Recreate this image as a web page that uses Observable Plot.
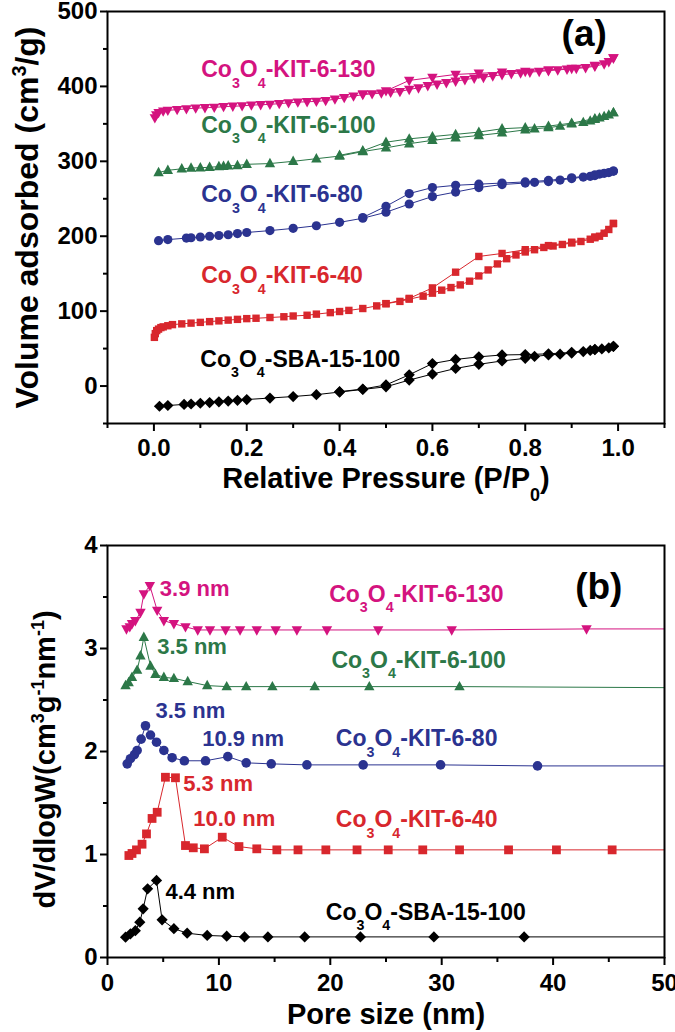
<!DOCTYPE html>
<html><head><meta charset="utf-8">
<script src="https://cdn.jsdelivr.net/npm/d3@7"></script>
<script src="https://cdn.jsdelivr.net/npm/@observablehq/plot@0.6"></script>
<style>
body{margin:0;background:#fff;}
#chart{width:675px;}
#chart svg{display:block;}
</style></head><body><div id="chart"></div>
<script>
// ---------------- Panel (a): N2 isotherms ----------------
const relP130Ads = [0.002,0.005,0.01,0.02,0.03,0.05,0.07,0.09,0.11,0.13,0.15,0.17,0.19,0.21,0.23,0.25,0.27,0.29,0.31,0.33,0.35,0.37,0.39,0.41,0.43,0.45,0.47,0.49,0.51,0.53,0.55,0.57,0.59,0.61,0.63,0.65,0.67,0.69,0.71,0.73,0.75,0.77,0.79,0.81,0.83,0.85,0.87,0.89,0.91,0.93,0.95,0.97,0.98,0.99];
const vol130Ads  = [358,362,365,367,368,369,370,371,371.5,372,373,373.5,374,375,375.5,376,377,378,379,379.5,380,381,383,385,387,389,390,391,392,393,396,398,401,403,405,407,409,411,412,414,415.5,417,418,419,420,421,422,423,424,425,427,430,433,438];
const relP130Des = [0.99,0.95,0.90,0.85,0.80,0.75,0.70,0.65,0.60,0.55,0.50,0.45];
const vol130Des  = [438,428,424,422,420,419,417.5,416,412,408,394,390];

const relP100Ads = [0.01,0.03,0.06,0.08,0.10,0.12,0.14,0.15,0.16,0.18,0.20,0.25,0.30,0.35,0.40,0.45,0.50,0.55,0.60,0.65,0.70,0.75,0.80,0.82,0.85,0.875,0.90,0.925,0.94,0.95,0.96,0.97,0.98,0.99];
const vol100Ads  = [285,288,290,291,291.5,292,293,293.5,294,294.5,296,297,300,303.5,307,313,318,323.5,328,331.5,334.5,338,342,343.5,345,347,350,352,354,356,358,360,362,365];
const relP100Des = [0.99,0.95,0.90,0.85,0.80,0.75,0.70,0.65,0.60,0.55,0.50,0.45,0.40];
const vol100Des  = [365,357,351,347,345,343.5,339,336,333,330,325.5,314,308];

const relP80Ads = [0.01,0.03,0.07,0.08,0.10,0.12,0.14,0.16,0.18,0.20,0.25,0.30,0.35,0.40,0.45,0.50,0.55,0.60,0.65,0.70,0.75,0.80,0.82,0.85,0.875,0.90,0.925,0.94,0.95,0.96,0.97,0.98,0.99];
const vol80Ads  = [194,195.5,197.5,198,199,200,201,202,203.5,205,207.5,210.5,214,218.5,224,232,243,253,259,265,269,271,272,273,275,277,279,280,281,283,284,285,287];
const relP80Des = [0.99,0.95,0.90,0.85,0.80,0.75,0.70,0.65,0.60,0.55,0.50,0.45];
const vol80Des  = [287,282,278,274.5,272.5,271,269.5,268,265,257,240,225];

const relP40Ads = [0.001,0.003,0.006,0.01,0.015,0.02,0.03,0.04,0.06,0.08,0.10,0.12,0.14,0.16,0.18,0.20,0.22,0.25,0.28,0.30,0.33,0.35,0.38,0.40,0.42,0.45,0.48,0.50,0.53,0.55,0.58,0.60,0.62,0.64,0.66,0.68,0.70,0.72,0.74,0.76,0.78,0.80,0.82,0.84,0.86,0.88,0.90,0.92,0.94,0.95,0.96,0.97,0.98,0.99];
const vol40Ads  = [65,70,74,76,78,79,80.5,82,83,84,85,86,87,88,89,90,90.5,91.5,92.5,93.5,94.5,96,98,99.5,101,103.5,107,110,113,116,120,124,128,131.5,135,140,147,155,163,170,175,179,182,185,187,189,191,193,196,198,200,204,209,217];
const relP40Des = [0.99,0.95,0.90,0.85,0.80,0.75,0.70,0.65,0.60,0.55,0.50];
const vol40Des  = [217,199,192,187.5,182,177,173,152,131,117,110];

const relPSbaAds = [0.012,0.03,0.065,0.08,0.10,0.12,0.14,0.16,0.18,0.20,0.25,0.30,0.35,0.40,0.45,0.50,0.55,0.60,0.65,0.70,0.75,0.80,0.82,0.85,0.875,0.90,0.925,0.94,0.95,0.965,0.98,0.99];
const volSbaAds  = [-27,-26,-24.5,-24,-23,-22,-21,-20,-19,-18,-16,-14,-11.5,-8,-4.5,-1,8,16,23.5,29,33.5,37,39.5,41.5,42.5,44,46,47.5,48.5,49.5,51,53];
const relPSbaDes = [0.99,0.95,0.90,0.85,0.80,0.75,0.70,0.65,0.60,0.55,0.50,0.45,0.40];
const volSbaDes  = [53,49,45,43,42,41.5,39,35.5,30,15,1.5,-4,-7.5];

// ---------------- Panel (b): pore size distributions ----------------
const size130 = [1.7,2.0,2.2,2.5,2.96,3.26,3.8,4.46,5.06,5.96,7.0,8.1,9.2,10.6,11.9,13.4,15.1,17.0,19.7,24.3,30.9,43.0];
const dv130   = [3.19,3.21,3.24,3.27,3.35,3.53,3.61,3.37,3.27,3.24,3.21,3.18,3.18,3.18,3.18,3.18,3.18,3.18,3.18,3.18,3.18,3.19];
const size100 = [1.62,1.9,2.2,2.66,2.96,3.26,3.86,4.3,5.06,5.96,7.2,8.95,10.7,12.45,14.8,18.6,23.5,31.6];
const dv100   = [2.64,2.67,2.72,2.79,2.93,3.11,2.83,2.75,2.72,2.71,2.68,2.64,2.63,2.63,2.63,2.63,2.63,2.63];
const size80  = [1.77,2.06,2.42,2.66,3.02,3.41,3.86,4.4,5.06,5.8,6.9,8.8,10.8,12.45,14.7,17.9,22.95,29.9,38.6];
const dv80    = [1.88,1.93,1.97,2.01,2.12,2.25,2.16,2.09,2.01,1.94,1.91,1.91,1.95,1.89,1.88,1.87,1.87,1.87,1.86];
const size40  = [1.92,2.2,2.6,3.1,3.5,4.0,4.46,5.2,6.1,7.0,7.7,8.7,10.3,11.8,13.4,15.2,17.1,19.6,22.4,25.2,28.3,31.6,36.0,40.3,45.3];
const dv40    = [0.99,1.01,1.045,1.10,1.20,1.35,1.41,1.75,1.745,1.087,1.065,1.055,1.168,1.077,1.055,1.045,1.045,1.045,1.045,1.045,1.045,1.045,1.045,1.045,1.045];
const sizeSba = [1.62,2.06,2.5,2.9,3.2,3.6,4.4,4.9,5.96,7.15,8.95,10.7,12.3,14.4,17.7,22.7,29.3,37.4];
const dvSba   = [0.197,0.23,0.26,0.343,0.473,0.667,0.748,0.366,0.28,0.236,0.214,0.207,0.2,0.2,0.2,0.2,0.2,0.2];
const dvTail  = [3.19,2.62,1.86,1.045,0.2]; // level of each curve where it meets the right axis

// ---------------- Labels and ticks ----------------
const seriesLabels = ["Co_{3}O_{4}-KIT-6-130","Co_{3}O_{4}-KIT-6-100","Co_{3}O_{4}-KIT-6-80","Co_{3}O_{4}-KIT-6-40","Co_{3}O_{4}-SBA-15-100"];
const seriesColors = ["#d4137f","#2c7848","#2b3390","#d8272d","#000000"];
const labelAPos = [0.102,0.102,0.102,0.102,0.100];
const labelAVol = [412,337.7,245.3,137,25.7];
const labelBSize = [19.9,20.1,20.5,20.5,19.6];
const labelBDv = [3.456,2.81,2.05,1.265,0.366];
const peakLabels = ["3.9 nm","3.5 nm","3.5 nm","10.9 nm","5.3 nm","10.0 nm","4.4 nm"];
const peakSeries = [0,1,2,2,3,3,4];
const peakSize = [4.7,4.46,4.31,8.5,6.8,7.7,5.2];
const peakDv = [3.505,2.95,2.33,2.05,1.615,1.28,0.57];

const xTicksA = [0,0.2,0.4,0.6,0.8,1.0];
const xMinorA = [-0.1,0.1,0.3,0.5,0.7,0.9,1.1];
const yTicksA = [0,100,200,300,400,500];
const yMinorA = [-50,50,150,250,350,450];
const xTicksB = [0,10,20,30,40,50];
const xMinorB = [5,15,25,35,45];
const yTicksB = [0,1,2,3,4];
const yMinorB = [0.5,1.5,2.5,3.5];

// ---------------- Symbols ----------------
const rad = s => Math.sqrt(s / Math.PI);
const triDown = {draw(c, s){const r = rad(s); c.moveTo(-r,-0.72*r); c.lineTo(r,-0.72*r); c.lineTo(0,1.1*r); c.closePath();}};
const triUp = {draw(c, s){const r = rad(s); c.moveTo(-r,0.72*r); c.lineTo(r,0.72*r); c.lineTo(0,-1.1*r); c.closePath();}};
const square = {draw(c, s){const r = rad(s); c.rect(-r,-r,2*r,2*r);}};
const diamond = {draw(c, s){const r = rad(s); c.moveTo(0,-r); c.lineTo(r,0); c.lineTo(0,r); c.lineTo(-r,0); c.closePath();}};
const symbols = [triDown, triUp, "circle", square, diamond];
const radiiA = [5.2, 5.2, 4.6, 3.7, 5.6];
const radiiB = [5.2, 5.2, 4.8, 4.4, 5.6];

const zip = (xs, ys, kx, ky) => xs.map((x, i) => ({[kx]: x, [ky]: ys[i]}));
const isoAds = [zip(relP130Ads,vol130Ads,"p","v"), zip(relP100Ads,vol100Ads,"p","v"), zip(relP80Ads,vol80Ads,"p","v"), zip(relP40Ads,vol40Ads,"p","v"), zip(relPSbaAds,volSbaAds,"p","v")];
const isoDes = [zip(relP130Des,vol130Des,"p","v"), zip(relP100Des,vol100Des,"p","v"), zip(relP80Des,vol80Des,"p","v"), zip(relP40Des,vol40Des,"p","v"), zip(relPSbaDes,volSbaDes,"p","v")];
const psd = [zip(size130,dv130,"w","d"), zip(size100,dv100,"w","d"), zip(size80,dv80,"w","d"), zip(size40,dv40,"w","d"), zip(sizeSba,dvSba,"w","d")];

const FONT = "'Liberation Sans', Arial, Helvetica, sans-serif";
const axisCommon = {fontSize: 24, fontWeight: "bold", strokeWidth: 2, label: null};

function plotA(){
  const marks = [];
  isoAds.forEach((rows, i) => {
    marks.push(Plot.line(rows, {x: "p", y: "v", stroke: seriesColors[i], strokeWidth: 1}));
    marks.push(Plot.line(isoDes[i], {x: "p", y: "v", stroke: seriesColors[i], strokeWidth: 1}));
  });
  isoAds.forEach((rows, i) => {
    marks.push(Plot.dot(rows, {x: "p", y: "v", symbol: symbols[i], r: radiiA[i], fill: seriesColors[i], stroke: "none"}));
    marks.push(Plot.dot(isoDes[i], {x: "p", y: "v", symbol: symbols[i], r: radiiA[i], fill: seriesColors[i], stroke: "none"}));
  });
  marks.push(Plot.text(seriesLabels.map((t, i) => ({t, x: labelAPos[i], y: labelAVol[i], c: seriesColors[i]})),
    {x: "x", y: "y", text: "t", fill: d => d.c, textAnchor: "start", lineAnchor: "bottom", fontSize: 23, fontWeight: "bold"}));
  marks.push(Plot.text(["(a)"], {x: [0.927], y: [454], text: d => d, fontSize: 37, fontWeight: "bold", lineAnchor: "bottom", fill: "black"}));
  marks.push(Plot.frame({stroke: "black", strokeWidth: 2}));
  marks.push(Plot.axisX(xTicksA, {...axisCommon, tickSize: 8, tickPadding: 7, tickFormat: d3.format(".1f")}));
  marks.push(Plot.axisX(xMinorA, {...axisCommon, tickSize: 5, tickFormat: () => ""}));
  marks.push(Plot.axisY(yTicksA, {...axisCommon, tickSize: 7, tickPadding: 3, tickFormat: d3.format("d")}));
  marks.push(Plot.axisY(yMinorA, {...axisCommon, tickSize: 4, tickFormat: () => ""}));
  marks.push(Plot.text(["Relative Pressure (P/P_{0})"], {frameAnchor: "bottom", dy: 64, text: d => d, textAnchor: "middle", lineAnchor: "bottom", fontSize: 29, fontWeight: "bold", fill: "black"}));
  marks.push(Plot.text(["Volume adsorbed (cm^{3}/g)"], {frameAnchor: "left", dx: -80, rotate: -90, text: d => d, textAnchor: "middle", lineAnchor: "middle", fontSize: 32, fontWeight: "bold", fill: "black"}));
  return Plot.plot({
    width: 675, height: 500, marginTop: 11, marginBottom: 77, marginLeft: 107, marginRight: 11,
    x: {domain: [-0.1, 1.1]}, y: {domain: [-50, 500]},
    style: {fontFamily: FONT, fontWeight: "bold", background: "white", color: "black", overflow: "visible"},
    marks
  });
}

function plotB(){
  const marks = [];
  psd.forEach((rows, i) => {
    marks.push(Plot.line(rows.concat([{w: 50, d: dvTail[i]}]), {x: "w", y: "d", stroke: seriesColors[i], strokeWidth: 1}));
  });
  psd.forEach((rows, i) => {
    marks.push(Plot.dot(rows, {x: "w", y: "d", symbol: symbols[i], r: radiiB[i], fill: seriesColors[i], stroke: "none"}));
  });
  marks.push(Plot.text(seriesLabels.map((t, i) => ({t, x: labelBSize[i], y: labelBDv[i], c: seriesColors[i]})),
    {x: "x", y: "y", text: "t", fill: d => d.c, textAnchor: "start", lineAnchor: "bottom", fontSize: 23, fontWeight: "bold"}));
  marks.push(Plot.text(peakLabels.map((t, i) => ({t, x: peakSize[i], y: peakDv[i], c: seriesColors[peakSeries[i]]})),
    {x: "x", y: "y", text: "t", fill: d => d.c, textAnchor: "start", lineAnchor: "bottom", fontSize: 22, fontWeight: "bold"}));
  marks.push(Plot.text(["(b)"], {x: [44.1], y: [3.476], text: d => d, fontSize: 37, fontWeight: "bold", lineAnchor: "bottom", fill: "black"}));
  marks.push(Plot.frame({stroke: "black", strokeWidth: 2}));
  marks.push(Plot.axisX(xTicksB, {...axisCommon, tickSize: 8, tickPadding: 8, tickFormat: d3.format("d")}));
  marks.push(Plot.axisX(xMinorB, {...axisCommon, tickSize: 5, tickFormat: () => ""}));
  marks.push(Plot.axisY(yTicksB, {...axisCommon, tickSize: 7, tickPadding: 3, tickFormat: d3.format("d")}));
  marks.push(Plot.axisY(yMinorB, {...axisCommon, tickSize: 4, tickFormat: () => ""}));
  marks.push(Plot.text(["Pore size (nm)"], {frameAnchor: "bottom", dy: 66, text: d => d, textAnchor: "middle", lineAnchor: "bottom", fontSize: 29, fontWeight: "bold", fill: "black"}));
  marks.push(Plot.text(["dV/dlogW(cm^{3}g^{-1}nm^{-1})"], {frameAnchor: "left", dx: -62, dy: 8, rotate: -90, text: d => d, textAnchor: "middle", lineAnchor: "middle", fontSize: 29, fontWeight: "bold", fill: "black"}));
  return Plot.plot({
    width: 675, height: 532, marginTop: 45, marginBottom: 75, marginLeft: 107, marginRight: 11,
    x: {domain: [0, 50]}, y: {domain: [0, 4]},
    style: {fontFamily: FONT, fontWeight: "bold", background: "white", color: "black", overflow: "visible"},
    marks
  });
}

function richify(svg){
  svg.querySelectorAll("text").forEach(t => {
    const s = t.textContent;
    if (!/[_^]\{/.test(s)) return;
    const fs = parseFloat(getComputedStyle(t).fontSize) || 22;
    while (t.firstChild) t.removeChild(t.firstChild);
    const re = /([_^])\{([^}]*)\}/g;
    let last = 0, m, shift = 0;
    const add = (str, kind) => {
      const ts = document.createElementNS("http://www.w3.org/2000/svg", "tspan");
      const target = kind === "_" ? 0.45 * fs : kind === "^" ? -0.38 * fs : 0;
      ts.setAttribute("dy", (target - shift).toFixed(2));
      shift = target;
      if (kind) ts.setAttribute("font-size", (0.62 * fs).toFixed(2));
      ts.textContent = str;
      t.appendChild(ts);
    };
    while ((m = re.exec(s))) {
      if (m.index > last) add(s.slice(last, m.index), null);
      add(m[2], m[1]);
      last = re.lastIndex;
    }
    if (last < s.length) add(s.slice(last), null);
  });
}

const host = document.getElementById("chart");
const a = plotA(), b = plotB();
host.appendChild(a); host.appendChild(b);
richify(a); richify(b);
</script>
</body></html>
